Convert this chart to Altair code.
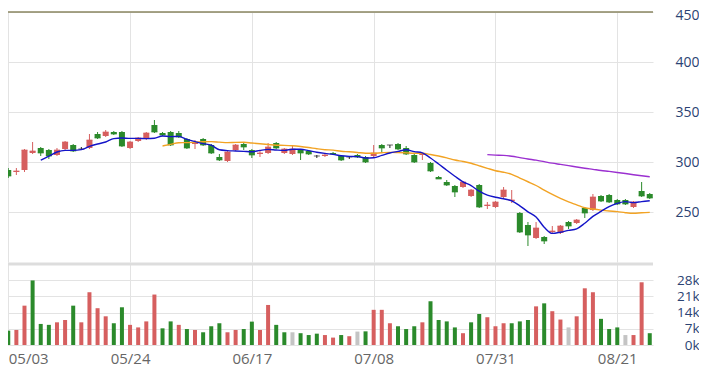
import altair as alt
import pandas as pd
import numpy as np

# OHLC per trading day (index 0..79)
opens = [292, 290, 292, 309, 314, 312, 307, 313, 317, 313,
         314, 328, 326, 330, 330, 314, 321, 323, 337, 329,
         330, 329, 323, 318, 323, 317, 305, 301, 312, 318,
         312, 308, 309, 319, 309, 308, 312, 311, 306, 306,
         309, 306, 305, 307, 305, 306, 317, 317, 318, 314,
         307, 307, 299, 285, 280, 276, 275, 266, 277, 256,
         255, 265, 261, 249, 237, 224, 225, 230, 229, 240,
         239, 254, 252, 266, 267, 262, 262, 255, 271, 268]
highs = [294, 294, 313, 320, 315, 313, 314, 321, 318, 315,
         328, 330, 332, 331, 331, 321, 325, 330, 342, 330,
         331, 331, 324, 322, 324, 318, 308, 311, 318, 319,
         313, 312, 319, 320, 314, 316, 313, 312, 307, 308,
         310, 307, 306, 308, 306, 317, 318, 317, 319, 316,
         308, 308, 300, 286, 282, 277, 281, 273, 278, 260,
         261, 275, 272, 250, 240, 240, 226, 236, 237, 241,
         243, 255, 268, 267, 268, 263, 263, 261, 280, 269]
lows = [284, 287, 290, 308, 306, 303, 306, 312, 310, 312,
        313, 323, 325, 327, 315, 313, 320, 322, 329, 326,
        316, 324, 313, 313, 316, 308, 301, 300, 311, 312,
        304, 305, 308, 313, 308, 307, 302, 307, 304, 305,
        307, 301, 303, 304, 299, 305, 309, 314, 312, 307,
        299, 302, 290, 283, 276, 265, 274, 265, 254, 253,
        254, 264, 259, 229, 216, 223, 218, 229, 228, 233,
        238, 244, 251, 260, 259, 257, 257, 254, 265, 263]
closes = [286, 291, 312, 311, 309, 306, 312, 320, 311, 313,
          322, 324, 330, 328, 316, 320, 324, 329, 330, 327,
          317, 325, 314, 319, 317, 309, 302, 310, 317, 315,
          307, 309, 315, 314, 313, 313, 309, 308, 306, 307,
          308, 302, 305, 305, 300, 309, 314, 317, 313, 308,
          300, 308, 291, 283, 277, 270, 280, 272, 255, 257,
          260, 272, 262, 230, 227, 234, 221, 231, 236, 236,
          242, 249, 265, 261, 260, 258, 258, 260, 266, 264]
# volume in thousands
volumes = [6.2, 6.5, 17.0, 27.9, 9.1, 8.7, 9.8, 10.8, 17.0, 9.8,
           22.8, 15.9, 12.4, 9.4, 16.3, 8.7, 7.6, 10.2, 21.8, 7.2,
           10.2, 8.7, 6.9, 6.5, 5.5, 8.1, 9.4, 5.5, 6.5, 6.9,
           10.1, 6.5, 17.3, 8.7, 5.5, 5.5, 5.1, 4.3, 4.9, 4.3,
           3.2, 4.3, 3.8, 5.8, 5.9, 15.2, 15.2, 9.4, 8.1, 6.9,
           8.1, 9.8, 18.9, 10.8, 10.2, 7.6, 5.1, 9.8, 13.4, 12.0,
           8.1, 9.4, 9.4, 10.2, 10.8, 16.7, 18.0, 14.6, 11.0, 7.6,
           12.4, 24.5, 22.8, 11.3, 6.9, 7.6, 4.3, 4.3, 27.1, 5.1]
# volume colour: change of close against previous day
vol_dir = ["down", "up", "up", "down", "down", "down", "up", "up", "down", "up",
           "up", "up", "up", "down", "down", "up", "up", "up", "up", "down",
           "down", "up", "down", "up", "down", "down", "down", "up", "up", "down",
           "down", "up", "up", "down", "down", "flat", "down", "down", "down", "up",
           "up", "down", "up", "flat", "down", "up", "up", "up", "down", "down",
           "down", "up", "down", "down", "down", "down", "up", "down", "down", "up",
           "up", "up", "down", "down", "down", "up", "down", "up", "up", "flat",
           "up", "up", "up", "down", "down", "down", "flat", "up", "up", "down"]

tick_idx = [0, 15, 30, 45, 60, 75]
tick_labels = ["05/03", "05/24", "06/17", "07/08", "07/31", "08/21"]

price_ticks = [250, 300, 350, 400, 450]
vol_ticks = [0, 7, 14, 21, 28]

df = pd.DataFrame({
    "idx": list(range(len(opens))),
    "open": opens, "high": highs, "low": lows, "close": closes,
    "volume": volumes, "vdir": vol_dir,
})
df["cdir"] = np.where(df["close"] > df["open"], "up",
                      np.where(df["close"] < df["open"], "down", "flat"))

RED = "#d65f5f"
GREEN = "#2b8a2b"
FONT = "Open Sans"

xscale = alt.Scale(domain=[-0.4, 79.4], nice=False, zero=False, padding=0)
pscale = alt.Scale(domain=[200, 450], nice=False, zero=False, padding=0)
vscale = alt.Scale(domain=[0, 35], nice=False, padding=0)

label_expr = "{" + ",".join(f"'{i}':'{t}'" for i, t in zip(tick_idx, tick_labels)) + "}[''+datum.value]"

x_grid_axis = alt.Axis(values=tick_idx, labels=False, ticks=False, domain=False,
                       title=None, grid=True, gridColor="#e3e3e3")
x_axis = alt.Axis(values=tick_idx, labelExpr=label_expr, ticks=False, domain=False,
                  title=None, grid=True, gridColor="#e3e3e3", labelFlush=6,
                  labelPadding=6, labelFontSize=15, labelColor="#666666", labelFont=FONT,
                  labelOverlap=False)

p_axis = alt.Axis(orient="right", values=price_ticks, ticks=False, tickSize=0, domain=False,
                  title=None, grid=True, gridColor="#e3e3e3", labelAlign="right",
                  labelPadding=46, labelFontSize=14, labelColor="#2b4373", labelFont=FONT,
                  labelOverlap=False,
                  labelOffset={"condition": {"test": "datum.value == 450", "value": 3}, "value": 0})
v_axis = alt.Axis(orient="right", values=vol_ticks, ticks=False, tickSize=0, domain=False,
                  title=None, grid=True, gridColor="#e3e3e3", labelAlign="right",
                  labelPadding=46, labelFontSize=13.5, labelColor="#2b4373", labelFont=FONT,
                  labelExpr="datum.value + 'k'", labelOverlap=False)

ccolor = alt.Color("cdir:N", scale=alt.Scale(domain=["up", "down", "flat"],
                                             range=[RED, GREEN, "#222222"]), legend=None)
vcolor = alt.Color("vdir:N", scale=alt.Scale(domain=["up", "down", "flat"],
                                             range=[RED, GREEN, "#c4c4c4"]), legend=None)

X = alt.X("idx:Q", scale=xscale, axis=x_grid_axis)
base = alt.Chart(df).encode(x=X)

wick = base.mark_rule(strokeWidth=1).encode(
    y=alt.Y("low:Q", scale=pscale, axis=p_axis), y2="high:Q", color=ccolor)
body = base.mark_bar(size=6).encode(
    y=alt.Y("open:Q", scale=pscale, axis=p_axis), y2="close:Q", color=ccolor)
doji = base.mark_tick(orient="horizontal", size=6, thickness=1).encode(
    y=alt.Y("close:Q", scale=pscale, axis=p_axis), color=ccolor)


def ma(n, color):
    return (alt.Chart(df)
            .transform_window(ma="mean(close)", frame=[-(n - 1), 0], sort=[{"field": "idx"}])
            .transform_filter(f"datum.idx >= {n - 1}")
            .mark_line(color=color, strokeWidth=1.4, interpolate="monotone")
            .encode(x=X, y=alt.Y("ma:Q", scale=pscale, axis=p_axis)))


top_line = alt.Chart(pd.DataFrame({"y": [450]})).mark_rule(
    color="#8a8660", strokeWidth=1.5).encode(y=alt.Y("y:Q", scale=pscale, axis=p_axis))

price = alt.layer(wick, body, doji, ma(60, "#9b30d0"), ma(20, "#f2a324"), ma(5, "#1414c8"),
                  top_line).properties(width=648, height=250)

XV = alt.X("idx:Q", scale=xscale, axis=x_axis)
vbars = alt.Chart(df).mark_bar(size=4).encode(
    x=XV, y=alt.Y("volume:Q", scale=vscale, axis=v_axis), color=vcolor)
sep = alt.Chart(pd.DataFrame({"y": [35]})).mark_rule(
    color="#dddddd", strokeWidth=3).encode(y=alt.Y("y:Q", scale=vscale, axis=v_axis))

volume = alt.layer(vbars, sep).properties(width=648, height=81)

chart = alt.vconcat(price, volume, spacing=0).properties(
    padding={"left": -5, "top": 0, "right": 0, "bottom": 0}
).configure_view(stroke=None).resolve_scale(color="independent")

chart.save("out.html", embed_options={"renderer": "svg", "actions": False})
